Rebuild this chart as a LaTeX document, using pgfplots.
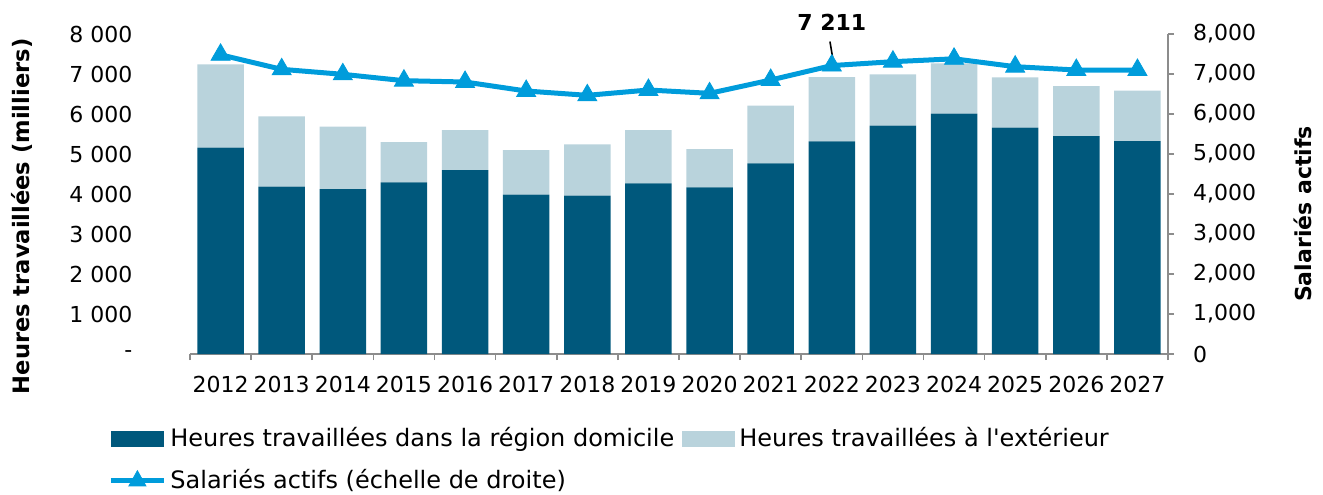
\documentclass[border=0pt]{standalone}
\usepackage{pgfplots}
\pgfplotsset{compat=1.18}
\usepackage{pgfplotstable}
\usepackage{fontspec}
\setmainfont{DejaVu Sans}
\definecolor{dark}{RGB}{0,88,124}
\definecolor{light}{RGB}{185,211,220}
\definecolor{lblue}{RGB}{0,156,219}
\definecolor{axgray}{RGB}{140,140,140}

\pgfplotstableread{
x dark light line
0 5158 2084 7480
1 4183 1759 7117
2 4125 1558 6992
3 4292 1008 6833
4 4600 1000 6800
5 3983 1117 6575
6 3958 1284 6467
7 4267 1333 6600
8 4167 958 6517
9 4767 1441 6850
10 5317 1608 7211
11 5708 1284 7308
12 6008 1259 7380
13 5658 1259 7183
14 5450 1250 7100
15 5325 1258 7100
}\data

\begin{document}
\begin{tikzpicture}[font=\fontsize{11}{13}\selectfont]
\begin{axis}[
  name=ax,
  width=489pt, height=160pt, scale only axis,
  xmin=-0.5, xmax=15.5, ymin=0, ymax=8000,
  ybar stacked, bar width=0.76,
  axis x line*=bottom, axis y line*=left,
  y axis line style={draw=none},
  x axis line style={-, axgray, line width=0.8pt},
  xtick={0,...,15},
  xticklabels={2012,2013,2014,2015,2016,2017,2018,2019,2020,2021,2022,2023,2024,2025,2026,2027},
  major x tick style={draw=none},
  minor xtick={-0.5,0.5,...,15.5},
  minor x tick style={axgray, line width=0.8pt},
  minor tick length=3pt,
  tick align=outside,
  ytick={0,1000,...,8000},
  yticklabels={-\hspace{9pt},1 000,2 000,3 000,4 000,5 000,6 000,7 000,8 000},
  major y tick style={draw=none},
  yticklabel style={anchor=east, xshift=-21pt},
  xticklabel style={yshift=-3.5pt},
  ylabel={Heures travaillées (milliers)},
  ylabel style={at={(axis description cs:-0.1718,0.43)}, anchor=center, font=\fontsize{11.3}{13}\selectfont\bfseries},
  legend style={at={(0,0)}, anchor=north west, xshift=-44pt, yshift=-32.5pt,
    draw=none, fill=none, row sep=6pt, font=\fontsize{12}{14}\selectfont,
    /tikz/every even column/.append style={column sep=2pt}},
  legend columns=2, legend cell align=left,
  clip=false,
]
\addplot+[fill=dark, draw=none, legend image code/.code={\fill[dark] (0pt,-4pt) rectangle (26.5pt,4pt);}] table[x=x,y=dark]{\data};
\addlegendentry{Heures travaillées dans la région domicile}
\addplot+[fill=light, draw=none, legend image code/.code={\fill[light] (0pt,-4pt) rectangle (26.5pt,4pt);}] table[x=x,y=light]{\data};
\addlegendentry{Heures travaillées à l\textquotesingle extérieur}
\addlegendimage{legend image code/.code={\draw[lblue, line width=2.5pt] (0pt,0pt) -- (26.5pt,0pt); \fill[lblue] (13.25pt,5pt) -- (9pt,-2.6pt) -- (17.5pt,-2.6pt) -- cycle;}}
\addlegendentry{Salariés actifs (échelle de droite)}
\coordinate (O) at (rel axis cs:0,0);
\end{axis}
\begin{axis}[
  width=489pt, height=160pt, scale only axis,
  xmin=-0.5, xmax=15.5, ymin=0, ymax=8000,
  axis x line=none, axis y line*=right,
  y axis line style={-, axgray, line width=0.8pt},
  ytick={0,1000,...,8000},
  yticklabels={0,{1,000},{2,000},{3,000},{4,000},{5,000},{6,000},{7,000},{8,000}},
  major tick length=3pt, tick align=outside,
  major y tick style={axgray, line width=0.8pt},
  yticklabel style={anchor=west, xshift=6pt},
  ylabel={Salariés actifs},
  ylabel style={at={(axis description cs:1.138,0.4375)}, anchor=center, font=\fontsize{11}{13}\selectfont\bfseries},
  clip=false,
]
\addplot[lblue, line width=2.5pt, mark=triangle*, mark size=5.5pt, mark options={line width=0.4pt, fill=lblue}] table[x=x,y=line]{\data};
\node[font=\fontsize{11}{13}\selectfont\bfseries] at (axis cs:10,8300) {7 211};
\draw[black, line width=0.8pt] (axis cs:9.97,7810) -- (axis cs:10.03,7260);
\end{axis}
\pgfresetboundingbox
\path[use as bounding box] ([shift={(-95pt,-70pt)}]O) rectangle ++(661.5pt,247pt);
\end{tikzpicture}
\end{document}
